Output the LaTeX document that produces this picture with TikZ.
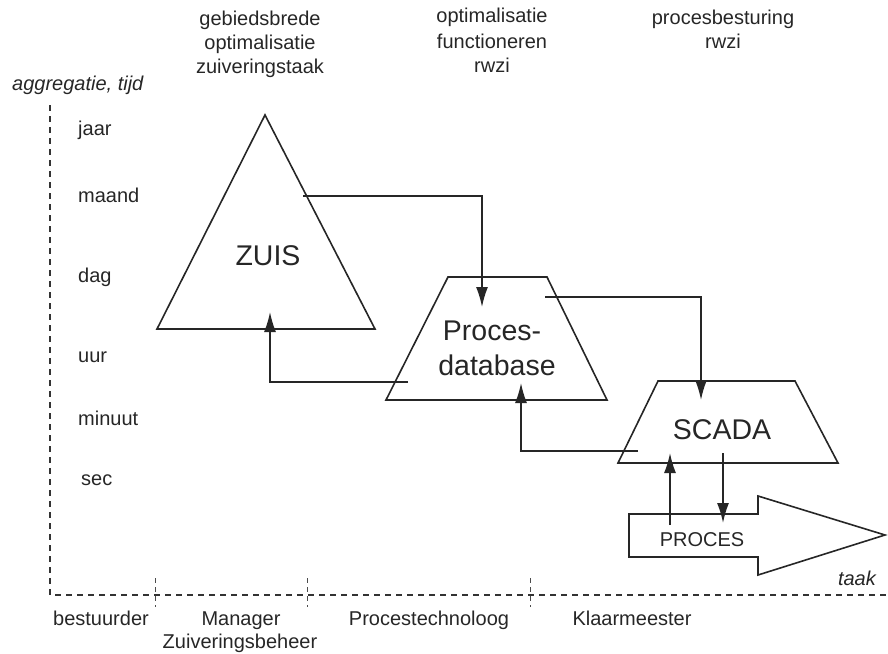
\documentclass[tikz,border=0pt]{standalone}
\usepackage{fontspec}
\setmainfont{Liberation Sans}
\usetikzlibrary{arrows.meta}
\begin{document}
\begin{tikzpicture}[x=1pt,y=-1pt,
  lbl/.style={font=\fontsize{20}{24}\selectfont, inner sep=0pt, text=black!85},
  ilbl/.style={lbl, font=\fontsize{20}{24}\selectfont\itshape},
  big/.style={font=\fontsize{28.5}{33}\selectfont, inner sep=0pt, text=black!85},
  small/.style={font=\fontsize{20}{24}\selectfont, inner sep=0pt, text=black!85},
  shapeline/.style={line width=1.6pt, draw=black!85, line join=miter},
  conn/.style={line width=1.6pt, draw=black!85, -{Latex[length=20pt,width=12pt]}},
  axisline/.style={line width=1.4pt, draw=black!80, dash pattern=on 6pt off 5pt},
  tickline/.style={line width=0.9pt, draw=black!70, dash pattern=on 5pt off 4pt}]
\useasboundingbox (0,0) rectangle (888,653);

% axes
\coordinate (ytop) at (50,105);
\coordinate (orig) at (50,595);
\coordinate (xend) at (888,595);
\draw[axisline] (ytop) -- (orig) -- (xend);
\foreach \x/\n in {155/t1,307/t2,530/t3}{
  \coordinate (\n a) at (\x,578);
  \coordinate (\n b) at (\x,607);
  \draw[tickline] (\n a) -- (\n b);
}

% axis labels
\node[ilbl, anchor=base west] (yl) at (12,90) {aggregatie, tijd};
\node[ilbl, anchor=base east] (xl) at (876,585) {taak};

% time labels
\node[lbl, anchor=base west] (jaar) at (78,135) {jaar};
\node[lbl, anchor=base west] (maand) at (78,202) {maand};
\node[lbl, anchor=base west] (dag) at (78,282) {dag};
\node[lbl, anchor=base west] (uur) at (78,362) {uur};
\node[lbl, anchor=base west] (minuut) at (78,425) {minuut};
\node[lbl, anchor=base west] (sec) at (81,485) {sec};

% column headers
\node[lbl, anchor=base] (h1a) at (260,25) {gebiedsbrede};
\node[lbl, anchor=base] (h1b) at (260,49) {optimalisatie};
\node[lbl, anchor=base] (h1c) at (260,73) {zuiveringstaak};
\node[lbl, anchor=base] (h2a) at (492,23) {optimalisatie};
\node[lbl, anchor=base] (h2b) at (492,48) {functioneren};
\node[lbl, anchor=base] (h2c) at (492,72) {rwzi};
\node[lbl, anchor=base] (h3a) at (723,24) {procesbesturing};
\node[lbl, anchor=base] (h3b) at (723,48) {rwzi};

% bottom labels
\node[lbl, anchor=base] (r1) at (101,625) {bestuurder};
\node[lbl, anchor=base] (r2a) at (241,625) {Manager};
\node[lbl, anchor=base] (r2b) at (240,648) {Zuiveringsbeheer};
\node[lbl, anchor=base] (r3) at (429,625) {Procestechnoloog};
\node[lbl, anchor=base] (r4) at (632,625) {Klaarmeester};

% ZUIS triangle
\coordinate (zA) at (265,115);
\coordinate (zB) at (157,329);
\coordinate (zC) at (375,329);
\draw[shapeline] (zA) -- (zB) -- (zC) -- cycle;
\node[big, anchor=base] (zuis) at (268,265) {ZUIS};

% Procesdatabase trapezium
\coordinate (pA) at (448,277);
\coordinate (pB) at (547,277);
\coordinate (pC) at (607,400);
\coordinate (pD) at (386,400);
\draw[shapeline] (pA) -- (pB) -- (pC) -- (pD) -- cycle;
\node[big, anchor=base] (pd1) at (492,340) {Proces-};
\node[big, anchor=base] (pd2) at (497,375) {database};

% SCADA trapezium
\coordinate (sA) at (658,381);
\coordinate (sB) at (795,381);
\coordinate (sC) at (838,463);
\coordinate (sD) at (618,463);
\draw[shapeline] (sA) -- (sB) -- (sC) -- (sD) -- cycle;
\node[big, anchor=base] (scada) at (722,439) {SCADA};

% PROCES arrow
\coordinate (a1) at (629,514);
\coordinate (a2) at (758,514);
\coordinate (a3) at (758,496);
\coordinate (a4) at (885,535);
\coordinate (a5) at (758,575);
\coordinate (a6) at (758,557);
\coordinate (a7) at (629,557);
\draw[shapeline] (a1) -- (a2) -- (a3) -- (a4) -- (a5) -- (a6) -- (a7) -- cycle;
\node[small, anchor=base] (proces) at (702,546) {PROCES};

% connectors
\coordinate (c1s) at (303,196);
\coordinate (c1e) at (482,307);
\draw[conn] (c1s) -| (c1e);
\coordinate (c2s) at (545,297);
\coordinate (c2e) at (701,400);
\draw[conn] (c2s) -| (c2e);
\coordinate (c3s) at (408,382);
\coordinate (c3e) at (270,312);
\draw[conn] (c3s) -| (c3e);
\coordinate (c4s) at (638,451);
\coordinate (c4e) at (521,383);
\draw[conn] (c4s) -| (c4e);
\coordinate (c5s) at (670,525);
\coordinate (c5e) at (670,453);
\draw[conn] (c5s) -- (c5e);
\coordinate (c6s) at (723,453);
\coordinate (c6e) at (723,523);
\draw[conn] (c6s) -- (c6e);
\end{tikzpicture}
\end{document}
